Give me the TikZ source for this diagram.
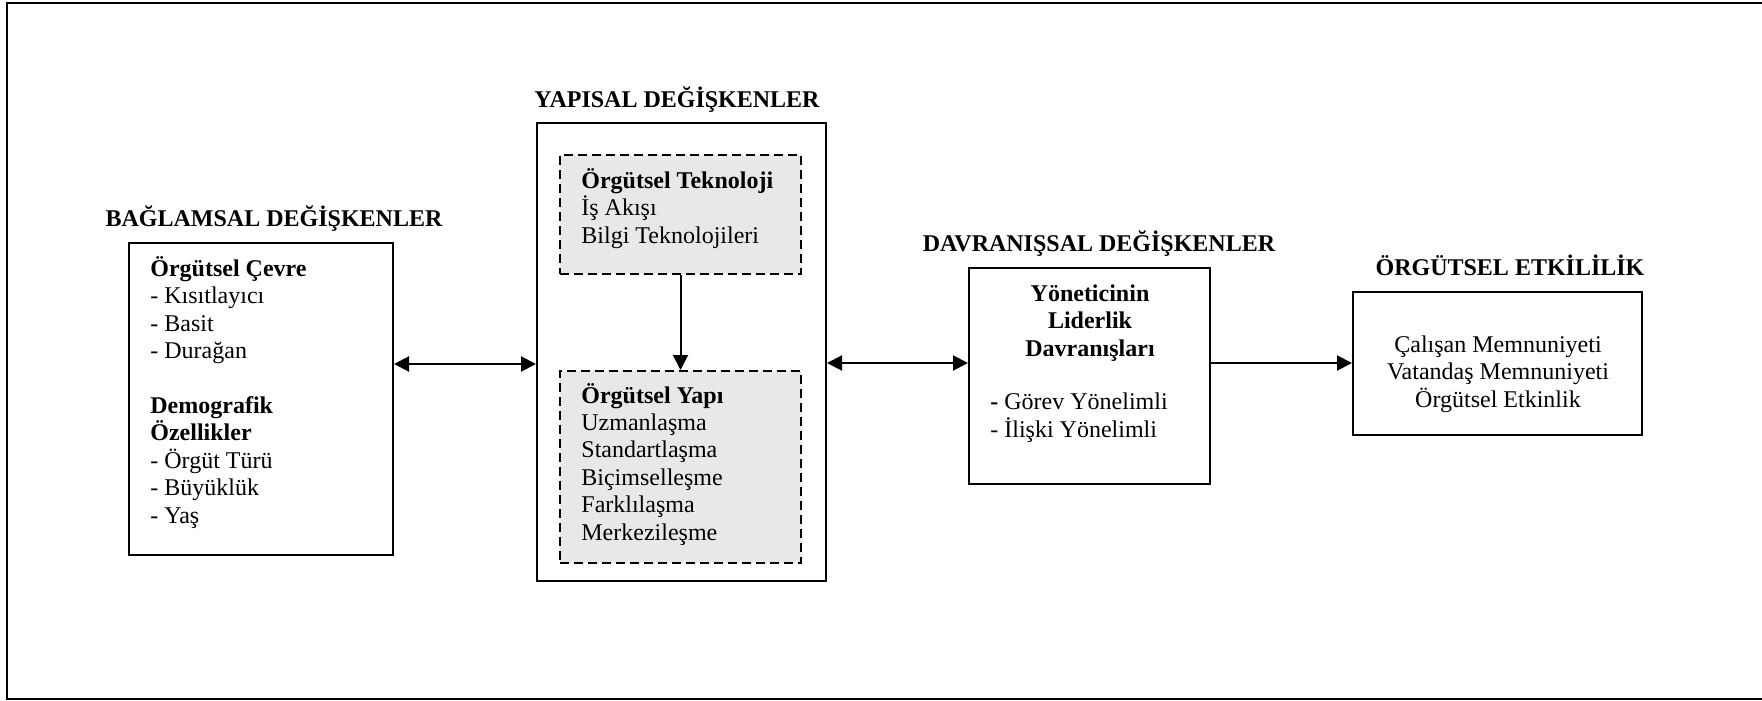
\documentclass[tikz,border=0pt]{standalone}
\usepackage{fontspec}
\setmainfont{Liberation Serif}
\usetikzlibrary{arrows.meta,fit}
\definecolor{shade}{RGB}{232,232,232}
\begin{document}
\begin{tikzpicture}[x=0.5pt,y=-0.5pt,
  every node/.style={font=\fontsize{12}{13.7}\selectfont},
  frame/.style={draw, line width=1pt, inner sep=0pt},
  inner/.style={draw, line width=1pt, dash pattern=on 4.5pt off 2.5pt, fill=shade, inner sep=0pt},
  title/.style={font=\fontsize{12}{13.7}\selectfont\bfseries, anchor=base, inner sep=0pt},
  body/.style={align=left, anchor=base west, inner sep=0pt},
  link/.style={line width=1pt, -{Triangle[length=7.5pt,width=7.5pt]}},
  both/.style={line width=1pt, {Triangle[length=7.5pt,width=7.5pt]}-{Triangle[length=7.5pt,width=7.5pt]}}]
\useasboundingbox (0,0) rectangle (1762,701);

% outer frame, open on the right
\draw[line width=1pt] (1762,3) -- (7,3) -- (7,699) -- (1762,699);

% boxes
\node[frame, fit={(129,243)(393,555)}] (ctx) {};
\node[frame, fit={(537,123)(826,581)}] (str) {};
\node[inner, fit={(560,155)(801,274)}] (tech) {};
\node[inner, fit={(560,371)(801,563)}] (form) {};
\node[frame, fit={(969,268)(1210,484)}] (beh) {};
\node[frame, fit={(1353,292)(1642,435)}] (eff) {};

% headings
\node[title] (ctxT) at (274,227) {BAĞLAMSAL DEĞİŞKENLER};
\node[title] (strT) at (677,108) {YAPISAL DEĞİŞKENLER};
\node[title] (behT) at (1099,251) {DAVRANIŞSAL DEĞİŞKENLER};
\node[title] (effT) at (1510,275) {ÖRGÜTSEL ETKİLİLİK};

% box contents (multi-line nodes are placed by the baseline of their last line)
\node[body] (ctxL) at (150,523) {\textbf{Örgütsel Çevre}\\- Kısıtlayıcı\\- Basit\\- Durağan\\[13.7pt]\textbf{Demografik}\\\textbf{Özellikler}\\- Örgüt Türü\\- Büyüklük\\- Yaş};
\node[body] (techL) at (581,243) {\textbf{Örgütsel Teknoloji}\\İş Akışı\\Bilgi Teknolojileri};
\node[body] (formL) at (581,540) {\textbf{Örgütsel Yapı}\\Uzmanlaşma\\Standartlaşma\\Biçimselleşme\\Farklılaşma\\Merkezileşme};
\node[title, align=center] (behH) at (1090,356) {Yöneticinin\\Liderlik\\Davranışları};
\node[body] (behL) at (990,437) {\textbf{-} Görev Yönelimli\\- İlişki Yönelimli};
\node[anchor=base, align=center, inner sep=0pt] (effL) at (1498,407) {Çalışan Memnuniyeti\\Vatandaş Memnuniyeti\\Örgütsel Etkinlik};

% connectors
\coordinate (rowL) at (0,364);
\coordinate (rowR) at (0,363);
\draw[both] (ctx.east |- rowL) -- (str.west |- rowL);
\draw[link] (tech.south) -- (form.north);
\draw[both] (str.east |- rowR) -- (beh.west |- rowR);
\draw[link] (beh.east |- rowR) -- (eff.west |- rowR);
\end{tikzpicture}
\end{document}
